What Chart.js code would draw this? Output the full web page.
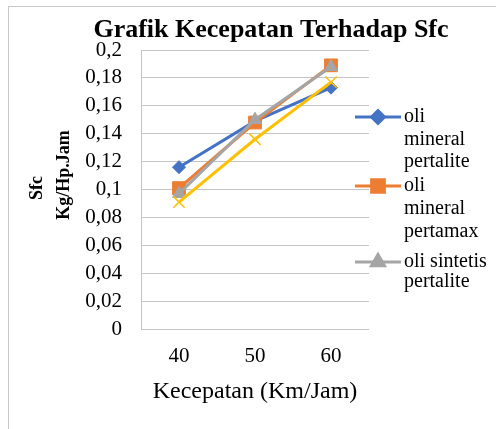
<!DOCTYPE html>
<html>
<head>
<meta charset="utf-8">
<script src="https://cdn.jsdelivr.net/npm/chart.js@4.4.1/dist/chart.umd.min.js"></script>
<style>
html,body{margin:0;padding:0;background:#fff;}
#wrap{position:relative;width:496px;height:429px;}
</style>
</head>
<body>
<div id="wrap"><canvas id="c" width="496" height="429"></canvas></div>
<script>
const categories = ['40', '50', '60'];
const oliMineralPertalite = [0.116, 0.149, 0.173];
const oliMineralPertamax = [0.101, 0.148, 0.189];
const oliSintetisPertalite = [0.097, 0.150, 0.188];
const oliSintetisPertamax = [0.091, 0.136, 0.177];
const seriesNames = ['oli mineral pertalite', 'oli mineral pertamax', 'oli sintetis pertalite', 'oli sintetis pertamax'];
const legendLines = [['oli', 'mineral', 'pertalite'], ['oli', 'mineral', 'pertamax'], ['oli sintetis', 'pertalite']];
const yTicks = [0, 0.02, 0.04, 0.06, 0.08, 0.1, 0.12, 0.14, 0.16, 0.18, 0.2];
const chartTitle = 'Grafik Kecepatan Terhadap Sfc';
const yTitleLines = ['Sfc', 'Kg/Hp.Jam'];
const xTitle = 'Kecepatan (Km/Jam)';

const SERIF = '"Liberation Serif", "Times New Roman", serif';

const frame = {
  id: 'frame',
  beforeDraw(chart) {
    const ctx = chart.ctx;
    ctx.save();
    ctx.strokeStyle = '#c8c8c8';
    ctx.lineWidth = 1;
    ctx.strokeRect(8.5, 6.5, 700, 700);
    ctx.restore();
  }
};

const texts = {
  id: 'texts',
  afterDraw(chart) {
    const ctx = chart.ctx;
    ctx.save();
    // chart title
    ctx.fillStyle = '#000';
    ctx.font = 'bold 26px ' + SERIF;
    ctx.textAlign = 'center';
    ctx.textBaseline = 'alphabetic';
    ctx.fillText(chartTitle, 271, 37);
    // y axis title (rotated, two lines)
    ctx.font = 'bold 18px ' + SERIF;
    ctx.textBaseline = 'middle';
    const pos = [[37, 188], [64, 175]];
    yTitleLines.forEach((t, i) => {
      ctx.save();
      ctx.translate(pos[i][0], pos[i][1]);
      ctx.rotate(-Math.PI / 2);
      ctx.fillText(t, 0, 0);
      ctx.restore();
    });
    // legend
    const x0 = 355, x1 = 401, tx = 404;
    const starts = [117, 186, 262];
    const gaps = [22.5, 23, 20];
    legendLines.forEach((lines, i) => {
      const ds = chart.data.datasets[i];
      const y = starts[i];
      ctx.strokeStyle = ds.borderColor;
      ctx.lineWidth = 3;
      ctx.beginPath();
      ctx.moveTo(x0, y);
      ctx.lineTo(x1, y);
      ctx.stroke();
      ctx.fillStyle = ds.backgroundColor;
      Chart.helpers.drawPoint(ctx, {pointStyle: ds.pointStyle, radius: ds.pointRadius, borderWidth: 1, rotation: 0}, (x0 + x1) / 2, y);
      ctx.fillStyle = '#000';
      ctx.font = '20px ' + SERIF;
      ctx.textBaseline = 'middle';
      ctx.textAlign = 'left';
      lines.forEach((t, k) => ctx.fillText(t, tx, y + k * gaps[i]));
    });
    ctx.restore();
  }
};

const colors = ['#4472C4', '#ED7D31', '#A5A5A5', '#FFC000'];
const styles = ['rectRot', 'rect', 'triangle', 'crossRot'];
const radii = [6.5, 9, 7.5, 8];
const seriesData = [oliMineralPertalite, oliMineralPertamax, oliSintetisPertalite, oliSintetisPertamax];

new Chart(document.getElementById('c'), {
  type: 'line',
  data: {
    labels: categories,
    datasets: seriesData.map((d, i) => ({
      label: seriesNames[i],
      data: d,
      borderColor: colors[i],
      backgroundColor: colors[i],
      pointBackgroundColor: colors[i],
      pointBorderColor: colors[i],
      pointStyle: styles[i],
      pointRadius: radii[i],
      pointBorderWidth: i === 3 ? 1.5 : 1,
      borderWidth: 3,
      tension: 0,
      order: 4 - i
    }))
  },
  options: {
    responsive: false,
    animation: false,
    layout: {padding: {left: 8, right: 127, top: 50, bottom: 0}},
    plugins: {
      legend: {display: false},
      tooltip: {enabled: false},
      title: {display: false}
    },
    scales: {
      x: {
        offset: true,
        afterFit(scale) { scale.height = 100; },
        grid: {display: false, drawTicks: false},
        border: {display: false},
        ticks: {color: '#000', font: {family: SERIF, size: 21}, padding: 15},
        title: {display: true, text: xTitle, color: '#000', font: {family: SERIF, size: 24}, padding: {top: 0, bottom: 23}}
      },
      y: {
        min: 0,
        max: 0.2,
        afterFit(scale) { scale.width = 133; },
        afterBuildTicks(scale) { scale.ticks = yTicks.map(v => ({value: v})); },
        grid: {color: '#c4c4c4', lineWidth: 1, drawTicks: false},
        border: {display: true, color: '#c4c4c4'},
        ticks: {
          color: '#000',
          font: {family: SERIF, size: 21},
          padding: 19,
          autoSkip: false,
          callback: v => String(Math.round(v * 100) / 100).replace('.', ',')
        },
        title: {display: false}
      }
    }
  },
  plugins: [frame, texts]
});
</script>
</body>
</html>
